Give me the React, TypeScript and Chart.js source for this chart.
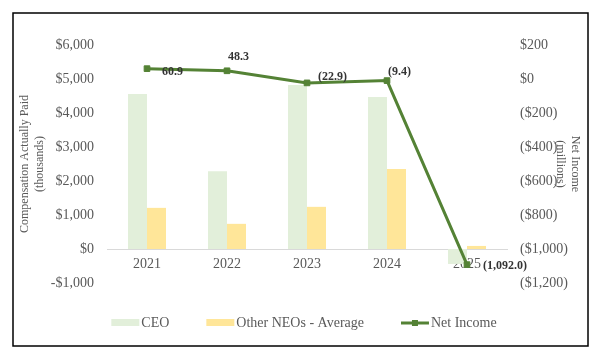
import React, { useEffect, useRef } from 'react';
import { Chart, registerables } from 'chart.js';

Chart.register(...registerables);

// ---- data ----
const YEARS = ['2021', '2022', '2023', '2024', '2025'];
const CEO_CAP = [4560, 2290, 4820, 4470, -440];
const OTHER_NEO_CAP = [1210, 740, 1240, 2350, 90];
const NET_INCOME = [60.9, 48.3, -22.9, -9.4, -1092.0];
const NET_INCOME_LABELS = ['60.9', '48.3', '(22.9)', '(9.4)', '(1,092.0)'];
const COMP_TICKS = [-1000, 0, 1000, 2000, 3000, 4000, 5000, 6000];
const NET_TICKS = [-1200, -1000, -800, -600, -400, -200, 0, 200];
const SERIES_NAMES = ['CEO', 'Other NEOs - Average', 'Net Income'];

// ---- style ----
const FONT = "'Liberation Serif', 'Times New Roman', serif";
const TEXT = '#595959';
const CEO_COLOR = '#e2efda';
const NEO_COLOR = '#ffe699';
const LINE_COLOR = '#548235';
const LABEL_PLACEMENT = [
  { dx: 15, dy: 3 },
  { dx: 1, dy: -14 },
  { dx: 11, dy: -6 },
  { dx: 1, dy: -9 },
  { dx: 16, dy: 1 },
];

const fmtComp = (v: number) =>
  (v < 0 ? '-$' : '$') + Math.abs(v).toLocaleString('en-US');
const fmtNet = (v: number) =>
  v < 0 ? '($' + Math.abs(v).toLocaleString('en-US') + ')' : '$' + v.toLocaleString('en-US');

const decorPlugin = {
  id: 'decor',
  afterDatasetsDraw(chart: any) {
    const ctx = chart.ctx;
    const meta = chart.getDatasetMeta(2);
    ctx.save();
    ctx.font = `bold 12px ${FONT}`;
    ctx.fillStyle = '#333333';
    ctx.textAlign = 'left';
    ctx.textBaseline = 'middle';
    meta.data.forEach((pt: any, i: number) => {
      const p = LABEL_PLACEMENT[i];
      ctx.fillText(NET_INCOME_LABELS[i], pt.x + p.dx, pt.y + p.dy);
    });
    ctx.restore();
  },
  afterDraw(chart: any) {
    const ctx = chart.ctx;
    ctx.save();
    // outer border
    ctx.strokeStyle = '#000000';
    ctx.lineWidth = 1.5;
    ctx.strokeRect(13, 13, 575, 333);

    // legend
    ctx.font = `14px ${FONT}`;
    ctx.textBaseline = 'middle';
    ctx.textAlign = 'left';
    const boxW = 28;
    const gapText = 2;
    const gapItem = 37;
    const ds = chart.data.datasets;
    const widths = ds.map((d: any) => boxW + gapText + ctx.measureText(d.label).width);
    const total = widths.reduce((a: number, b: number) => a + b, 0) + gapItem * (ds.length - 1);
    let x = (chart.width - total) / 2;
    const cy = 323;
    ds.forEach((d: any, i: number) => {
      if (d.type === 'line') {
        ctx.strokeStyle = d.borderColor;
        ctx.lineWidth = 3;
        ctx.beginPath();
        ctx.moveTo(x, cy);
        ctx.lineTo(x + boxW, cy);
        ctx.stroke();
        ctx.fillStyle = d.borderColor;
        ctx.fillRect(x + boxW / 2 - 3, cy - 3, 6, 6);
      } else {
        ctx.fillStyle = d.backgroundColor;
        ctx.fillRect(x, cy - 4, boxW, 7);
      }
      ctx.fillStyle = TEXT;
      ctx.fillText(d.label, x + boxW + gapText, cy);
      x += widths[i] + gapItem;
    });
    ctx.restore();
  },
};

export default function App() {
  const ref = useRef<HTMLCanvasElement | null>(null);

  useEffect(() => {
    if (!ref.current) return;
    const chart = new Chart(ref.current, {
      type: 'bar',
      data: {
        labels: YEARS,
        datasets: [
          {
            type: 'bar',
            label: SERIES_NAMES[0],
            data: CEO_CAP,
            backgroundColor: CEO_COLOR,
            yAxisID: 'y',
            barPercentage: 1,
            categoryPercentage: 0.475,
            order: 2,
          },
          {
            type: 'bar',
            label: SERIES_NAMES[1],
            data: OTHER_NEO_CAP,
            backgroundColor: NEO_COLOR,
            yAxisID: 'y',
            barPercentage: 1,
            categoryPercentage: 0.475,
            order: 2,
          },
          {
            type: 'line',
            label: SERIES_NAMES[2],
            data: NET_INCOME,
            borderColor: LINE_COLOR,
            backgroundColor: LINE_COLOR,
            borderWidth: 3,
            pointStyle: 'rect',
            pointRadius: 4,
            pointBorderWidth: 1,
            pointBackgroundColor: LINE_COLOR,
            pointBorderColor: LINE_COLOR,
            tension: 0,
            yAxisID: 'y1',
            order: 0,
          } as any,
        ],
      },
      options: {
        responsive: false,
        animation: false,
        layout: { padding: { top: 45, bottom: 77, left: 0, right: 0 } },
        plugins: {
          legend: { display: false },
          tooltip: { enabled: false },
        },
        scales: {
          x: {
            type: 'category',
            position: { y: 0 } as any,
            offset: true,
            grid: { display: false, drawTicks: false },
            border: { display: true, color: '#d9d9d9', width: 1 },
            ticks: { color: TEXT, font: { family: FONT, size: 14 }, padding: 7 },
          },
          y: {
            position: 'left',
            min: -1000,
            max: 6000,
            afterBuildTicks: (s: any) => {
              s.ticks = COMP_TICKS.map((v) => ({ value: v }));
            },
            afterFit: (s: any) => {
              s.width = 107;
            },
            grid: { display: false, drawTicks: false },
            border: { display: false },
            ticks: {
              color: TEXT,
              font: { family: FONT, size: 14 },
              padding: 13,
              callback: (v: any) => fmtComp(Number(v)),
            },
            title: {
              display: true,
              text: ['Compensation Actually Paid', '(thousands)'],
              color: TEXT,
              font: { family: FONT, size: 12, lineHeight: 1.2 },
              padding: { top: 18, bottom: 0 },
            },
          },
          y1: {
            position: 'right',
            min: -1200,
            max: 200,
            afterBuildTicks: (s: any) => {
              s.ticks = NET_TICKS.map((v) => ({ value: v }));
            },
            afterFit: (s: any) => {
              s.width = 101;
            },
            grid: { display: false, drawTicks: false },
            border: { display: false },
            ticks: {
              color: TEXT,
              font: { family: FONT, size: 14 },
              padding: 13,
              callback: (v: any) => fmtNet(Number(v)),
            },
            title: {
              display: true,
              text: ['Net Income', '(millions)'],
              color: TEXT,
              font: { family: FONT, size: 12, lineHeight: 1.2 },
              padding: { top: 26, bottom: 0 },
            },
          },
        },
      },
      plugins: [decorPlugin],
    });
    return () => chart.destroy();
  }, []);

  return (
    <div style={{ position: 'fixed', left: 0, top: 0, width: 608, height: 360, background: '#ffffff' }}>
      <canvas ref={ref} width={608} height={360} style={{ display: 'block' }} />
    </div>
  );
}
